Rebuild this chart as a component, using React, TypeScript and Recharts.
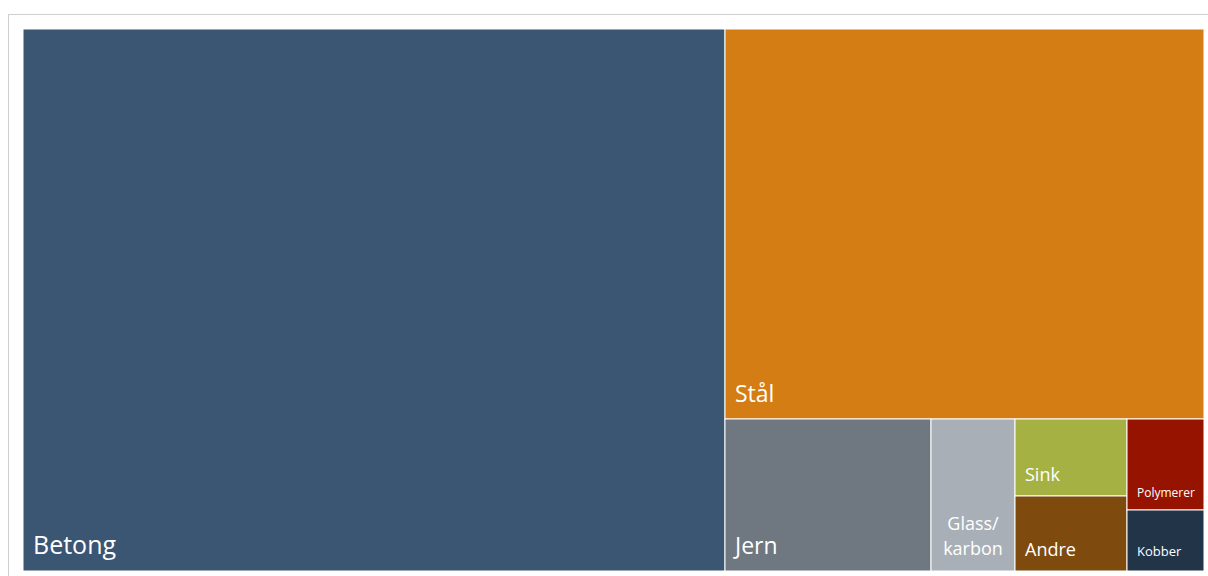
import React from "react";
import { Treemap } from "recharts";

// Material shares (%)
const materials = ["Betong", "Stål", "Jern", "Glass/karbon", "Sink", "Andre", "Polymerer", "Kobber"];
const shares = [59.4, 29.2, 4.9, 2.0, 1.35, 1.3, 1.1, 0.75];

const COLORS = ["#3A5673", "#D57D15", "#6F7780", "#A9AFB6", "#A5B243", "#7F4A0E", "#961300", "#223448"];
const FONT_SIZES = [25, 23, 23, 18, 18, 18, 12, 13];

const data = materials.map((name, i) => ({ name, value: shares[i] }));

const FONT = "'Open Sans', 'DejaVu Sans', sans-serif";

function Cell(props: any) {
  const { x, y, width, height, depth, index, name } = props;
  if (depth !== 1) return <g />;
  const fill = COLORS[index % COLORS.length];
  const fs = FONT_SIZES[index] ?? 14;
  const bottom = y + height;
  let label: React.ReactNode;
  if (name === "Glass/karbon") {
    const cx = x + width / 2;
    label = (
      <text x={cx} y={bottom - 16} textAnchor="middle" fill="#fff" stroke="none" fontWeight={400} fontSize={fs} fontFamily={FONT}>
        <tspan x={cx} dy={-25}>Glass/</tspan>
        <tspan x={cx} dy={25}>karbon</tspan>
      </text>
    );
  } else {
    const off = fs >= 22 ? 17 : fs <= 12 ? 13 : 15;
    label = (
      <text x={x + 10} y={bottom - off} fill="#fff" stroke="none" fontWeight={400} fontSize={fs} fontFamily={FONT}>
        {name}
      </text>
    );
  }
  return (
    <g>
      <rect x={x} y={y} width={width} height={height} fill={fill} stroke="#fff" strokeWidth={1} />
      {label}
    </g>
  );
}

export default function App() {
  return (
    <div style={{ position: "fixed", left: 0, top: 0, width: 1208, height: 576, overflow: "hidden", background: "#fff" }}>
      <style>{"html,body{margin:0;overflow:hidden}"}</style>
      <div
        style={{
          position: "absolute",
          left: 8,
          top: 14,
          width: 1220,
          height: 600,
          borderLeft: "1px solid #cfcfcf",
          borderTop: "1px solid #cfcfcf",
        }}
      />
      <div style={{ position: "absolute", left: 23, top: 29 }}>
        <Treemap
          width={1181}
          height={542}
          data={data}
          dataKey="value"
          nameKey="name"
          aspectRatio={1}
          isAnimationActive={false}
          stroke="#fff"
          content={<Cell />}
        />
      </div>
    </div>
  );
}
